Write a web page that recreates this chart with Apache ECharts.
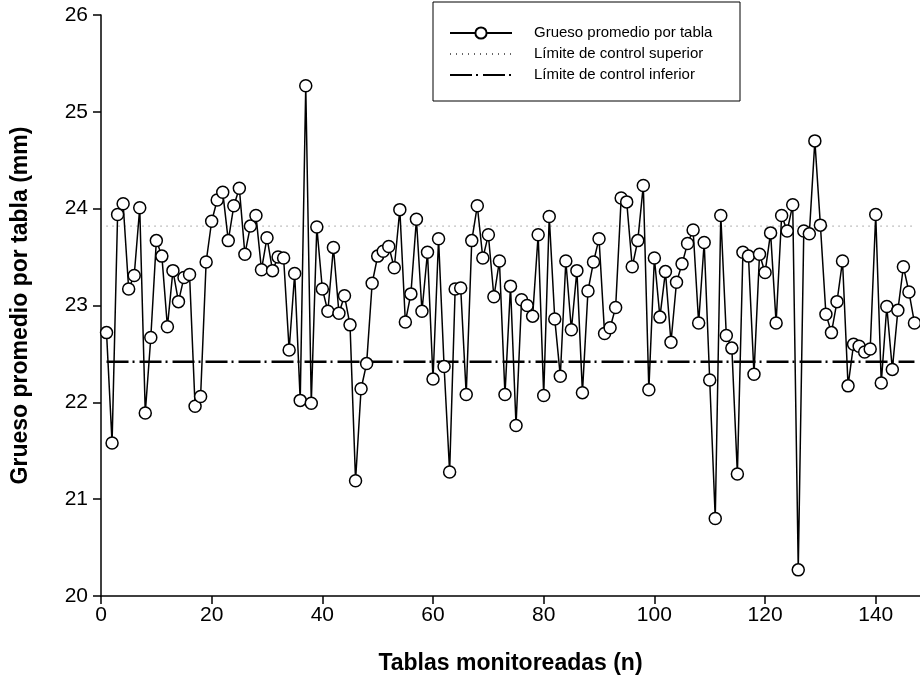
<!DOCTYPE html>
<html>
<head>
<meta charset="utf-8">
<script src="https://cdn.jsdelivr.net/npm/echarts@6/dist/echarts.min.js"></script>
<style>
  html, body { margin: 0; padding: 0; background: #fff; }
  #chart { width: 920px; height: 691px; }
</style>
</head>
<body>
<div id="chart"></div>
<script>
// grueso promedio por tabla, tablas 1..147
const grosor = [
  22.72, 21.58, 23.94, 24.05, 23.17, 23.31, 24.01, 21.89, 22.67, 23.67,
  23.51, 22.78, 23.36, 23.04, 23.29, 23.32, 21.96, 22.06, 23.45, 23.87,
  24.09, 24.17, 23.67, 24.03, 24.21, 23.53, 23.82, 23.93, 23.37, 23.70,
  23.36, 23.50, 23.49, 22.54, 23.33, 22.02, 25.27, 21.99, 23.81, 23.17,
  22.94, 23.60, 22.92, 23.10, 22.80, 21.19, 22.14, 22.40, 23.23, 23.51,
  23.56, 23.61, 23.39, 23.99, 22.83, 23.12, 23.89, 22.94, 23.55, 22.24,
  23.69, 22.37, 21.28, 23.17, 23.18, 22.08, 23.67, 24.03, 23.49, 23.73,
  23.09, 23.46, 22.08, 23.20, 21.76, 23.06, 23.00, 22.89, 23.73, 22.07,
  23.92, 22.86, 22.27, 23.46, 22.75, 23.36, 22.10, 23.15, 23.45, 23.69,
  22.71, 22.77, 22.98, 24.11, 24.07, 23.40, 23.67, 24.24, 22.13, 23.49,
  22.88, 23.35, 22.62, 23.24, 23.43, 23.64, 23.78, 22.82, 23.65, 22.23,
  20.80, 23.93, 22.69, 22.56, 21.26, 23.55, 23.51, 22.29, 23.53, 23.34,
  23.75, 22.82, 23.93, 23.77, 24.04, 20.27, 23.77, 23.74, 24.70, 23.83,
  22.91, 22.72, 23.04, 23.46, 22.17, 22.60, 22.58, 22.52, 22.55, 23.94,
  22.20, 22.99, 22.34, 22.95, 23.40, 23.14, 22.82
];
const tablas = grosor.map((v, i) => i + 1);

const limiteSuperior = 23.82;
const limiteInferior = 22.42;

const xTicks = [0, 20, 40, 60, 80, 100, 120, 140];
const yTicks = [20, 21, 22, 23, 24, 25, 26];

const nombres = ['Grueso promedio por tabla', 'Límite de control superior', 'Límite de control inferior'];

const chart = echarts.init(document.getElementById('chart'));

const primera = tablas[0];
const ultima = tablas[tablas.length - 1];

const option = {
  animation: false,
  textStyle: { fontFamily: 'Liberation Sans, Arial, sans-serif', color: '#000' },
  grid: { left: 101, right: 0, top: 15, bottom: 95 },
  graphic: [
    {
      // marco de la leyenda
      type: 'rect',
      shape: { x: 433, y: 2, width: 307, height: 99 },
      style: { fill: '#fff', stroke: '#000', lineWidth: 1 },
      z: 10
    }
  ],
  legend: {
    orient: 'vertical',
    left: 444,
    top: 20,
    itemWidth: 62,
    itemHeight: 14,
    itemGap: 5,
    z: 20,
    textStyle: { fontSize: 15, lineHeight: 16, color: '#000', padding: [0, 0, 0, 17] },
    data: nombres
  },
  xAxis: {
    type: 'value',
    min: 0,
    max: 148,
    interval: 20,
    name: 'Tablas monitoreadas (n)',
    nameLocation: 'middle',
    nameGap: 56,
    nameTextStyle: { fontSize: 23, fontWeight: 'bold', color: '#000' },
    axisLine: { lineStyle: { color: '#000', width: 1.5 } },
    axisTick: { show: true, length: 8, lineStyle: { color: '#000', width: 1.5 } },
    axisLabel: {
      fontSize: 21, color: '#000', margin: 9, showMaxLabel: false,
      formatter: v => (xTicks.indexOf(v) >= 0 ? String(v) : '')
    },
    splitLine: { show: false }
  },
  yAxis: {
    type: 'value',
    min: 20,
    max: 26,
    interval: 1,
    name: 'Grueso promedio por tabla (mm)',
    nameLocation: 'middle',
    nameGap: 69,
    nameTextStyle: { fontSize: 23, fontWeight: 'bold', color: '#000' },
    axisLine: { show: true, lineStyle: { color: '#000', width: 1.5 } },
    axisTick: { show: true, length: 8, lineStyle: { color: '#000', width: 1.5 } },
    axisLabel: {
      fontSize: 21, color: '#000', margin: 13,
      formatter: v => (yTicks.indexOf(v) >= 0 ? String(v) : '')
    },
    splitLine: { show: false }
  },
  series: [
    {
      name: nombres[0],
      type: 'line',
      data: tablas.map((n, i) => [n, grosor[i]]),
      symbol: 'circle',
      symbolSize: 12,
      showAllSymbol: true,
      lineStyle: { color: '#000', width: 1.5 },
      itemStyle: { color: '#fff', borderColor: '#000', borderWidth: 1.5 },
      z: 5
    },
    {
      name: nombres[1],
      type: 'line',
      data: [[primera, limiteSuperior], [ultima, limiteSuperior]],
      symbol: 'none',
      lineStyle: { color: '#666', width: 1, type: [1, 5] },
      itemStyle: { color: 'rgba(0,0,0,0)', borderWidth: 0 },
      z: 3
    },
    {
      name: nombres[2],
      type: 'line',
      data: [[primera, limiteInferior], [ultima, limiteInferior]],
      symbol: 'none',
      lineStyle: { color: '#000', width: 2.5, type: [22, 4, 2, 5] },
      itemStyle: { color: 'rgba(0,0,0,0)', borderWidth: 0 },
      z: 3
    }
  ]
};

chart.setOption(option);
</script>
</body>
</html>
